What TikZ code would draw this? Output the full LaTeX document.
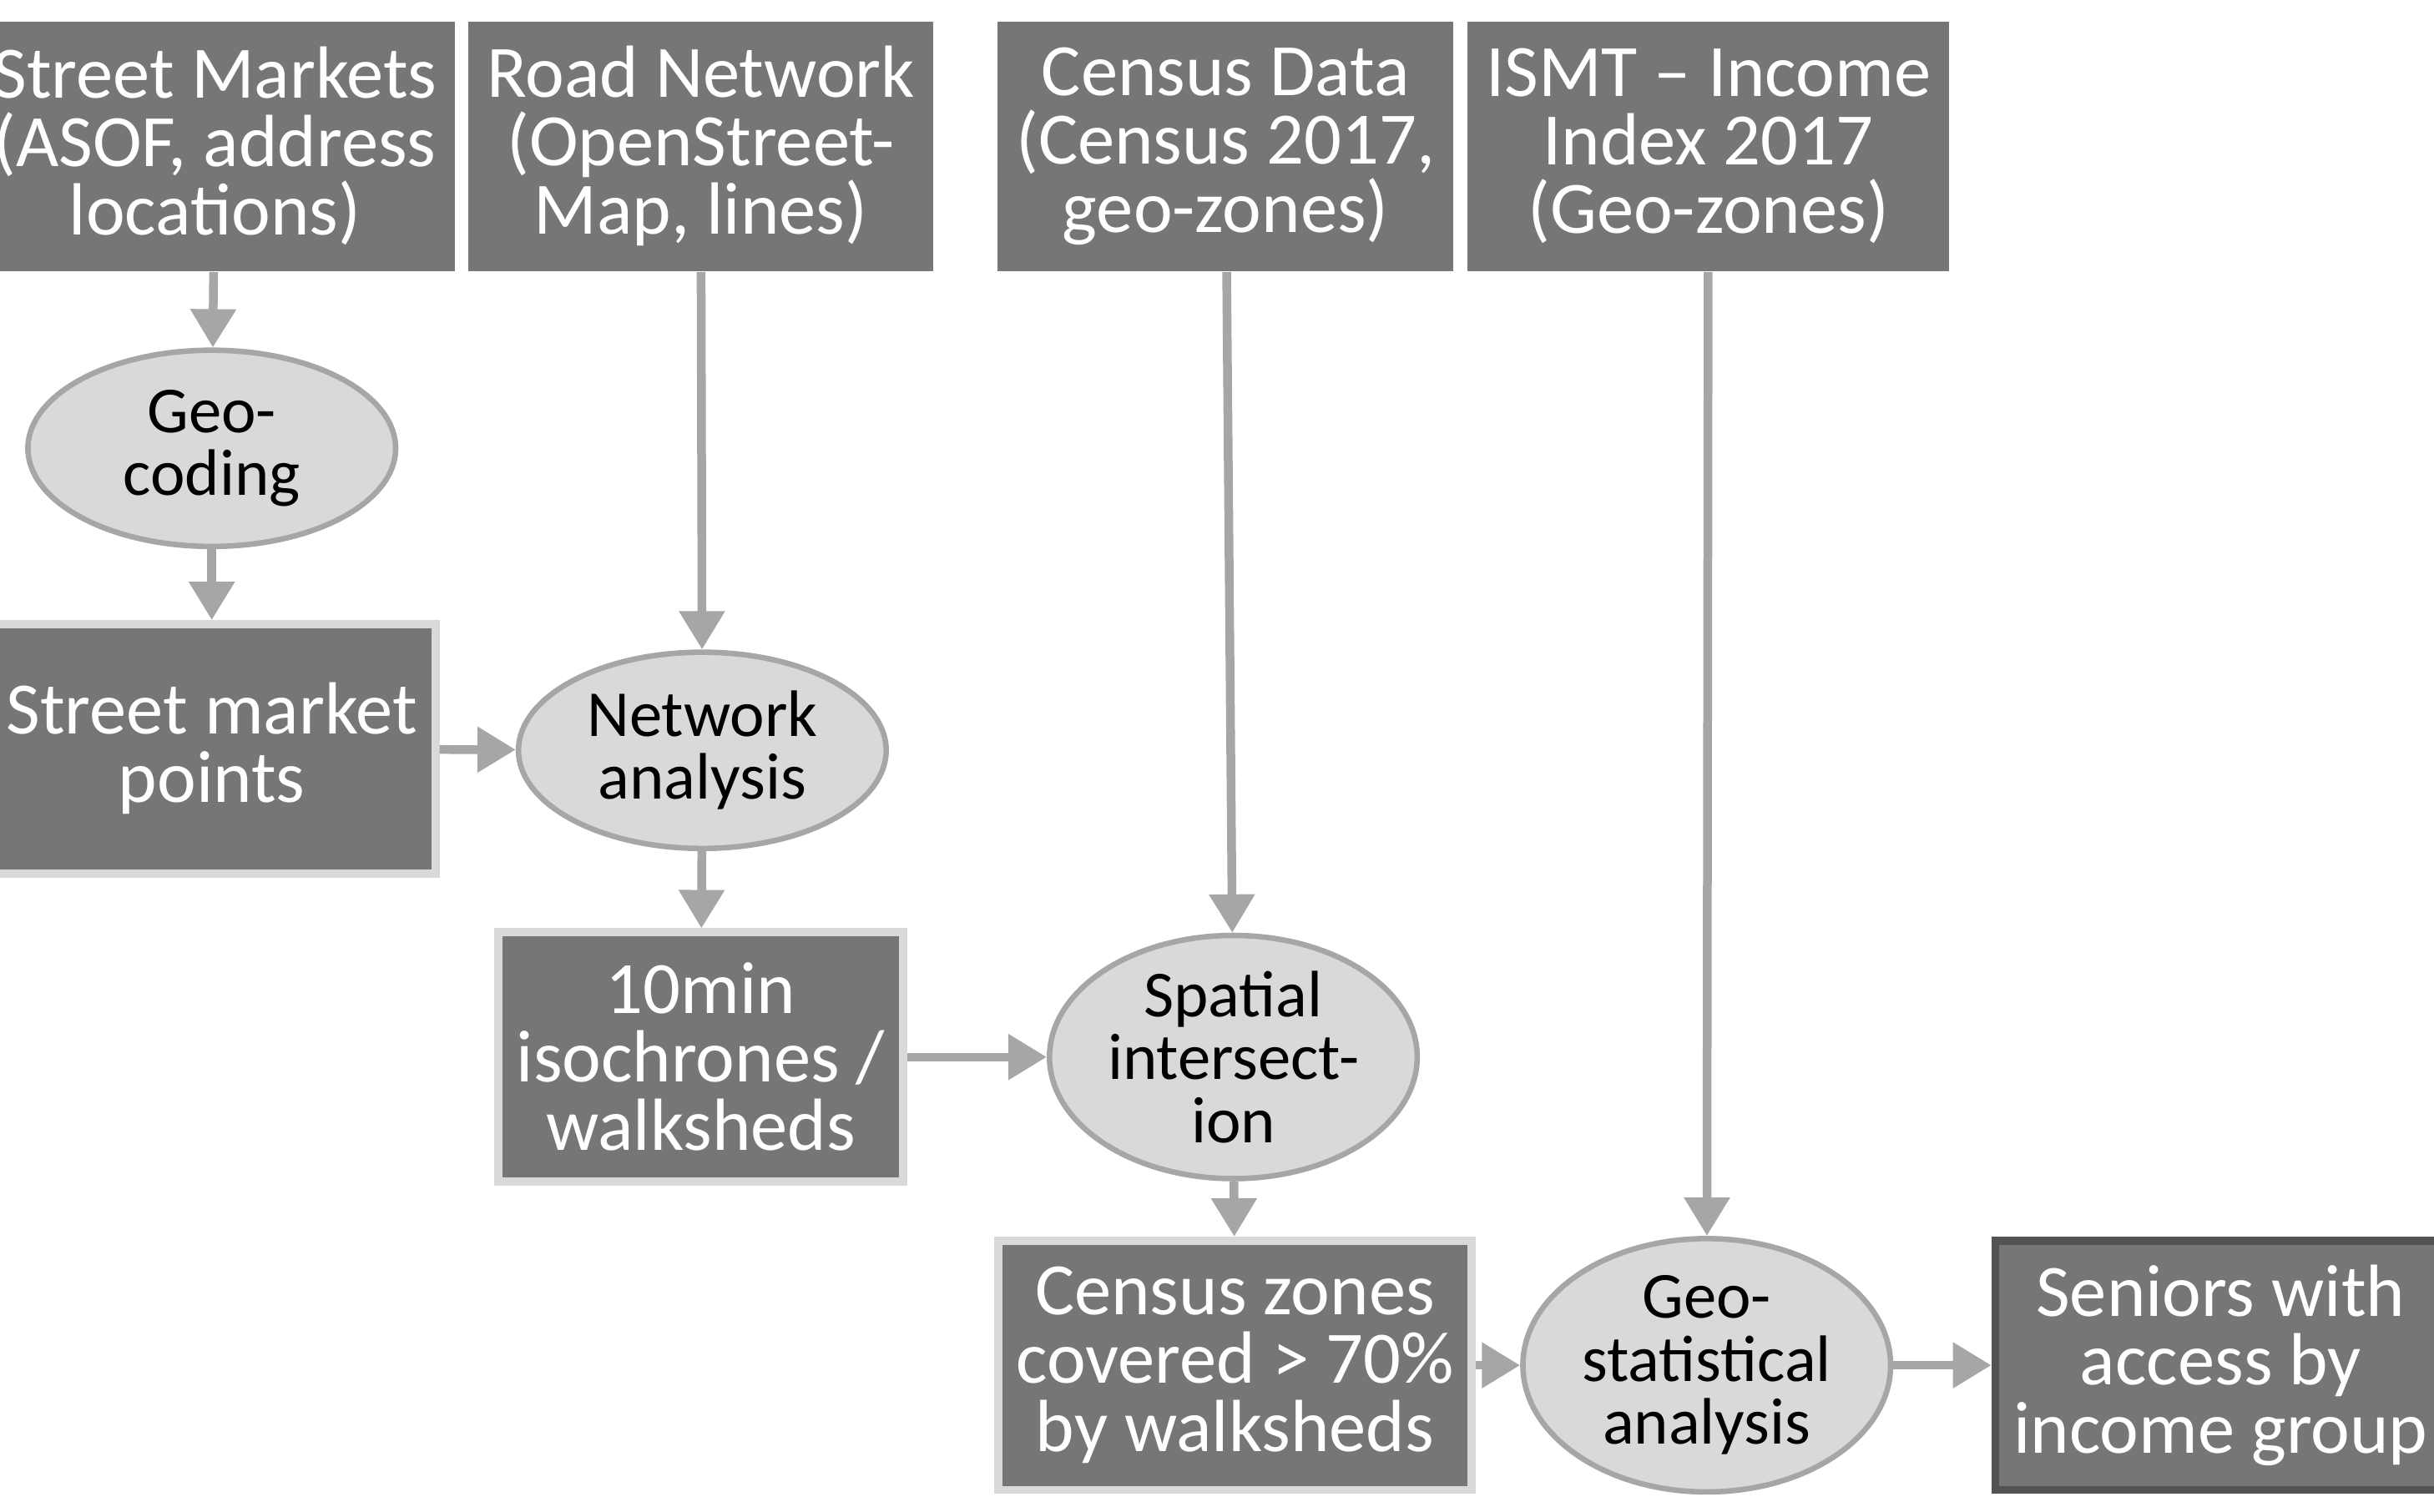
\documentclass[tikz,border=0pt]{standalone}
\usepackage{fontspec}
\setmainfont{Carlito}
\usetikzlibrary{positioning,arrows.meta,shapes.geometric}
\definecolor{boxgray}{RGB}{118,118,118}
\definecolor{ellgray}{RGB}{217,217,217}
\definecolor{linegray}{RGB}{166,166,166}
\tikzset{
  data/.style={rectangle,fill=boxgray,text=white,minimum width=2.48cm,minimum height=1.6cm,align=center,font=\fontsize{13.5}{12.5}\selectfont},
  result/.style={data,draw=ellgray,line width=1.5pt},
  proc/.style={ellipse,draw=linegray,fill=ellgray,line width=1pt,minimum width=2.36cm,minimum height=1.26cm,inner sep=0pt,align=center,font=\fontsize{12}{11.5}\selectfont},
  flow/.style={draw=linegray,line width=1.6pt,-{Triangle[length=7pt,width=8pt]}}
}
\begin{document}
\begin{tikzpicture}[x=0.01cm,y=-0.01cm]
\useasboundingbox (0,0) rectangle (1563,971);
% inputs
\node[data] (markets) at (138,94) {Street Markets\\(ASOF, address\\locations)};
\node[data,minimum width=2.67cm] (roads) at (450,94) {Road Network\\(OpenStreet-\\Map, lines)};
\node[data] (census) at (787,94) {Census Data\\(Census 2017,\\geo-zones)};
\node[data] (ismt) at (1097,94) {ISMT -- Income\\Index 2017\\(Geo-zones)};
% processing
\node[proc] (geocode) at (136,288) {Geo-\\coding};
\node[result] (points) at (136,481) {Street market\\points};
\node[proc] (network) at (451,482) {Network\\analysis};
\node[result] (iso) at (450,679) {10min\\isochrones /\\walksheds};
\node[proc] (spatial) at (792,679) {Spatial\\intersect-\\ion};
\node[result] (zones) at (793,877) {Census zones\\covered > 70\%\\by walksheds};
\node[proc] (geostat) at (1096,877) {Geo-\\statistical\\analysis};
\node[data,draw=boxgray!70!black,line width=1.5pt] (seniors) at (1426,877) {Seniors with\\access by\\income group};
% connectors
\draw[flow] (markets) -- (geocode);
\draw[flow] (geocode) -- (points);
\draw[flow] (points) -- (network);
\draw[flow] (roads) -- (network);
\draw[flow] (network) -- (iso);
\draw[flow] (iso) -- (spatial);
\draw[flow] (census) -- (spatial);
\draw[flow] (spatial) -- (zones);
\draw[flow] (zones) -- (geostat);
\draw[flow] (ismt) -- (geostat);
\draw[flow] (geostat) -- (seniors);
\end{tikzpicture}
\end{document}
